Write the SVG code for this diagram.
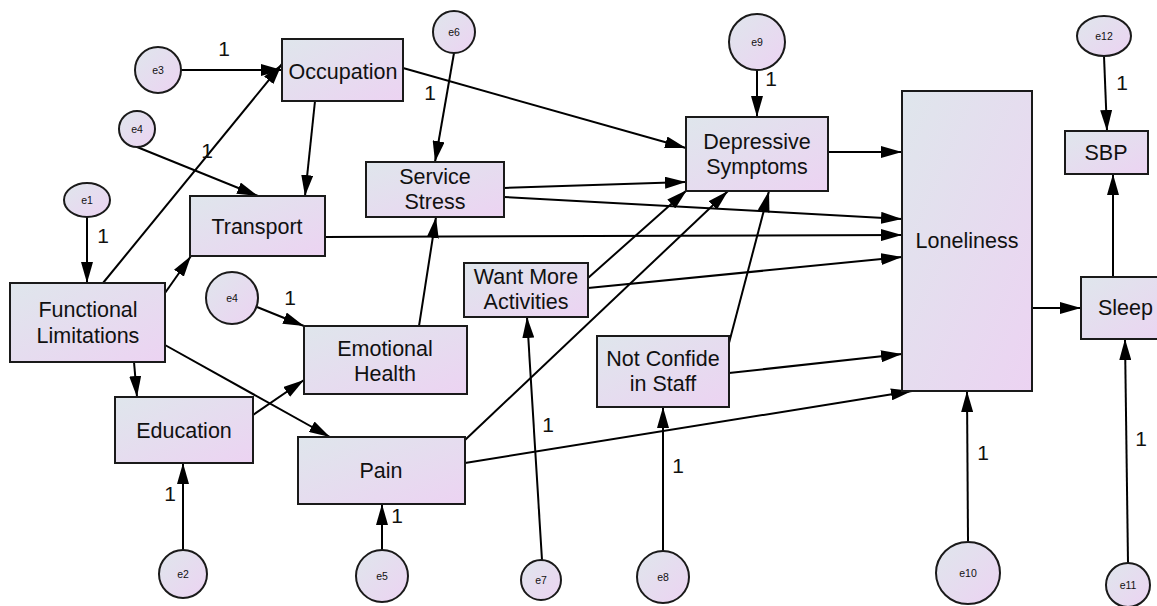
<svg xmlns="http://www.w3.org/2000/svg" width="1157" height="606" viewBox="0 0 1157 606">
  <defs>
    <linearGradient id="fillGrad" x1="0" y1="0" x2="1" y2="1">
      <stop offset="0" stop-color="#dfe6ec"/>
      <stop offset="1" stop-color="#ecd3f2"/>
    </linearGradient>
    <marker id="arrow" viewBox="0 0 21 12" refX="21" refY="6" markerWidth="21" markerHeight="12" markerUnits="userSpaceOnUse" orient="auto">
      <path d="M0,0 L21,6 L0,12 Z" fill="#000"/>
    </marker>
    <style>
      .box { fill: url(#fillGrad); stroke: #1a1a1a; stroke-width: 2; }
      .err { fill: url(#fillGrad); stroke: #1a1a1a; stroke-width: 2; }
      .lbl { font-family: "Liberation Sans", Arial, sans-serif; font-size: 21.5px; fill: #111; text-anchor: middle; }
      .elbl { font-family: "Liberation Sans", Arial, sans-serif; font-size: 10.5px; fill: #111; text-anchor: middle; }
      .one { font-family: "Liberation Sans", Arial, sans-serif; font-size: 21px; fill: #111; text-anchor: middle; }
      .edge { stroke: #000; stroke-width: 2; fill: none; marker-end: url(#arrow); }
    </style>
  </defs>
  <rect width="1157" height="606" fill="#fff"/>

  <g id="connectors">
    <line class="edge" x1="181" y1="70" x2="282" y2="70"/>
    <line class="edge" x1="103" y1="283" x2="282" y2="64"/>
    <line class="edge" x1="137" y1="147" x2="258" y2="196"/>
    <line class="edge" x1="315" y1="101" x2="305" y2="196"/>
    <line class="edge" x1="87" y1="217" x2="87" y2="283"/>
    <line class="edge" x1="165" y1="293" x2="191" y2="256"/>
    <line class="edge" x1="325" y1="237" x2="902" y2="235"/>
    <line class="edge" x1="403" y1="68" x2="686" y2="148"/>
    <line class="edge" x1="454" y1="53" x2="435" y2="162"/>
    <line class="edge" x1="757" y1="70" x2="757" y2="117"/>
    <line class="edge" x1="504" y1="188" x2="686" y2="182"/>
    <line class="edge" x1="504" y1="197" x2="902" y2="219"/>
    <line class="edge" x1="419" y1="326" x2="436" y2="217"/>
    <line class="edge" x1="588" y1="278" x2="687" y2="190"/>
    <line class="edge" x1="588" y1="288" x2="902" y2="257"/>
    <line class="edge" x1="465" y1="440" x2="728" y2="191"/>
    <line class="edge" x1="729" y1="343" x2="769" y2="191"/>
    <line class="edge" x1="729" y1="373" x2="902" y2="354"/>
    <line class="edge" x1="465" y1="463" x2="912" y2="391"/>
    <line class="edge" x1="828" y1="152" x2="902" y2="152"/>
    <line class="edge" x1="1032" y1="308" x2="1081" y2="308"/>
    <line class="edge" x1="1113" y1="277" x2="1113" y2="174"/>
    <line class="edge" x1="1104" y1="56" x2="1107" y2="131"/>
    <line class="edge" x1="1128" y1="563" x2="1125" y2="339"/>
    <line class="edge" x1="968" y1="541" x2="967" y2="391"/>
    <line class="edge" x1="663" y1="551" x2="663" y2="407"/>
    <line class="edge" x1="542" y1="560" x2="527" y2="317"/>
    <line class="edge" x1="183" y1="550" x2="183" y2="463"/>
    <line class="edge" x1="382" y1="550" x2="382" y2="504"/>
    <line class="edge" x1="134" y1="362" x2="137" y2="397"/>
    <line class="edge" x1="165" y1="345" x2="330" y2="437"/>
    <line class="edge" x1="253" y1="415" x2="304" y2="380"/>
    <line class="edge" x1="257" y1="307" x2="304" y2="326"/>
    <!-- path coefficients fixed to 1 -->
    <text class="one" x="224" y="56">1</text>
    <text class="one" x="207" y="158">1</text>
    <text class="one" x="103" y="243">1</text>
    <text class="one" x="430" y="100">1</text>
    <text class="one" x="771" y="86">1</text>
    <text class="one" x="1122" y="90">1</text>
    <text class="one" x="1141" y="446">1</text>
    <text class="one" x="983" y="460">1</text>
    <text class="one" x="678" y="473">1</text>
    <text class="one" x="548" y="432">1</text>
    <text class="one" x="170" y="501">1</text>
    <text class="one" x="397" y="523">1</text>
    <text class="one" x="290" y="305">1</text>
  </g>

  <g id="occupation">
    <rect class="box" x="282" y="39" width="121" height="62"/>
    <text class="lbl" x="343" y="79">Occupation</text>
  </g>
  <g id="transport">
    <rect class="box" x="190" y="196" width="135" height="60"/>
    <text class="lbl" x="257" y="234">Transport</text>
  </g>
  <g id="functional-limitations">
    <rect class="box" x="10" y="283" width="155" height="79"/>
    <text class="lbl" x="88" y="317">Functional</text>
    <text class="lbl" x="88" y="343">Limitations</text>
  </g>
  <g id="education">
    <rect class="box" x="115" y="397" width="138" height="66"/>
    <text class="lbl" x="184" y="438">Education</text>
  </g>
  <g id="emotional-health">
    <rect class="box" x="304" y="326" width="163" height="68"/>
    <text class="lbl" x="385" y="356">Emotional</text>
    <text class="lbl" x="385" y="381">Health</text>
  </g>
  <g id="pain">
    <rect class="box" x="298" y="437" width="167" height="67"/>
    <text class="lbl" x="381" y="478">Pain</text>
  </g>
  <g id="service-stress">
    <rect class="box" x="366" y="162" width="138" height="55"/>
    <text class="lbl" x="435" y="184">Service</text>
    <text class="lbl" x="435" y="209">Stress</text>
  </g>
  <g id="want-more-activities">
    <rect class="box" x="464" y="263" width="124" height="54"/>
    <text class="lbl" x="526" y="284">Want More</text>
    <text class="lbl" x="526" y="309">Activities</text>
  </g>
  <g id="not-confide">
    <rect class="box" x="597" y="336" width="132" height="71"/>
    <text class="lbl" x="663" y="366">Not Confide</text>
    <text class="lbl" x="663" y="391">in Staff</text>
  </g>
  <g id="depressive-symptoms">
    <rect class="box" x="686" y="117" width="142" height="74"/>
    <text class="lbl" x="757" y="149">Depressive</text>
    <text class="lbl" x="757" y="174">Symptoms</text>
  </g>
  <g id="loneliness">
    <rect class="box" x="902" y="91" width="130" height="300"/>
    <text class="lbl" x="967" y="248">Loneliness</text>
  </g>
  <g id="sbp">
    <rect class="box" x="1065" y="131" width="83" height="43"/>
    <text class="lbl" x="1106" y="160">SBP</text>
  </g>
  <g id="sleep">
    <rect class="box" x="1081" y="277" width="100" height="62"/>
    <text class="lbl" x="1098" y="315" style="text-anchor:start">Sleep</text>
  </g>

  <g id="e1"><ellipse class="err" cx="87" cy="200" rx="23" ry="17"/><text class="elbl" x="87" y="204">e1</text></g>
  <g id="e2"><ellipse class="err" cx="183" cy="574" rx="24" ry="24"/><text class="elbl" x="183" y="578">e2</text></g>
  <g id="e3"><ellipse class="err" cx="158" cy="70" rx="23" ry="23"/><text class="elbl" x="158" y="74">e3</text></g>
  <g id="e4-top"><ellipse class="err" cx="137" cy="129" rx="18" ry="18"/><text class="elbl" x="137" y="133">e4</text></g>
  <g id="e4-lower"><ellipse class="err" cx="232" cy="298" rx="26" ry="26"/><text class="elbl" x="232" y="302">e4</text></g>
  <g id="e5"><ellipse class="err" cx="382" cy="576" rx="26" ry="26"/><text class="elbl" x="382" y="580">e5</text></g>
  <g id="e6"><ellipse class="err" cx="454" cy="32" rx="21" ry="21"/><text class="elbl" x="454" y="36">e6</text></g>
  <g id="e7"><ellipse class="err" cx="541" cy="580" rx="20" ry="20"/><text class="elbl" x="541" y="584">e7</text></g>
  <g id="e8"><ellipse class="err" cx="663" cy="577" rx="26" ry="26"/><text class="elbl" x="663" y="581">e8</text></g>
  <g id="e9"><ellipse class="err" cx="757" cy="42" rx="28" ry="28"/><text class="elbl" x="757" y="46">e9</text></g>
  <g id="e10"><ellipse class="err" cx="968" cy="573" rx="32" ry="31"/><text class="elbl" x="968" y="577">e10</text></g>
  <g id="e11"><ellipse class="err" cx="1128" cy="585" rx="22" ry="22"/><text class="elbl" x="1128" y="589">e11</text></g>
  <g id="e12"><ellipse class="err" cx="1104" cy="36" rx="27" ry="20"/><text class="elbl" x="1104" y="40">e12</text></g>
</svg>
